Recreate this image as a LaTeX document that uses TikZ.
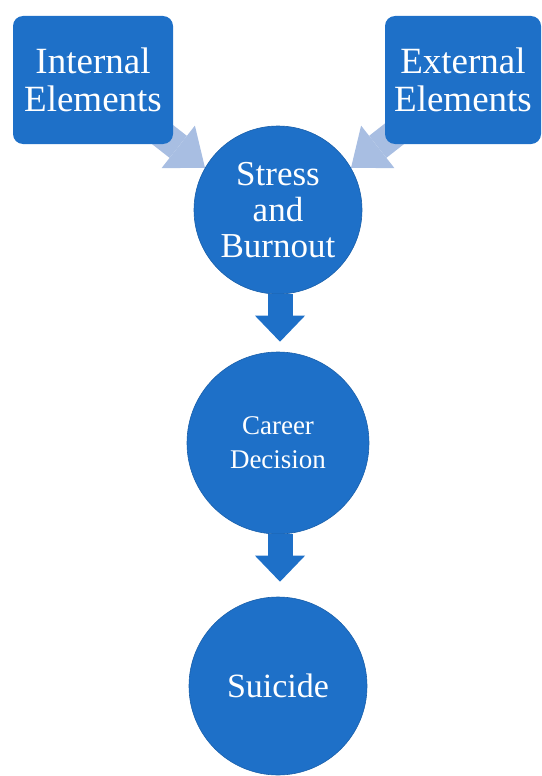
\documentclass[tikz,border=0pt]{standalone}
\usepackage{fontspec}
\setmainfont{Liberation Serif}
\usetikzlibrary{arrows.meta,backgrounds}
\definecolor{boxblue}{RGB}{30,112,200}
\definecolor{paleblue}{RGB}{168,190,226}

\begin{document}
\begin{tikzpicture}[x=1pt, y=-1pt,
    element/.style={rectangle, rounded corners=10pt, fill=boxblue, text=white,
        inner sep=0pt, align=center, minimum height=128pt,
        font=\fontsize{37}{38}\selectfont},
    stage/.style={circle, fill=boxblue, draw=boxblue!85!black, line width=0.6pt,
        text=white, inner sep=0pt, align=center},
    flowarrow/.style={boxblue, line width=25pt,
        -{Triangle[width=50pt, length=26pt, line width=0pt]}},
    feedarrow/.style={paleblue, line width=28pt,
        -{Triangle[width=54pt, length=34pt, line width=0pt]}}]
    \useasboundingbox (0,0) rectangle (541,776);
    \pgfmathsetmacro{\cx}{278}  % units of points, axis of the circles

    % the two sources
    \node[element, minimum width=160pt] (internal) at (93,80) {Internal\\Elements};
    \node[element, minimum width=156pt] (external) at (463,80) {External\\Elements};

    % the chain of stages
    \node[stage, minimum size=168pt, font=\fontsize{35}{36}\selectfont]
        (stress) at (\cx,210) {Stress\\and\\Burnout};
    \node[stage, minimum size=182pt, font=\fontsize{27}{34}\selectfont]
        (career) at (\cx,443) {Career\\Decision};
    \node[stage, minimum size=178pt, font=\fontsize{34}{34}\selectfont]
        (suicide) at (\cx,686) {Suicide};

    % pale arrows run behind the boxes, from their centres
    \begin{scope}[on background layer]
        \draw[feedarrow] (internal.center) -- (stress.150);
        \draw[feedarrow] (external.center) -- (stress.30);
    \end{scope}

    \draw[flowarrow, shorten >=10pt] ([xshift=2pt]stress.south) -- ([xshift=2pt]career.north);
    \draw[flowarrow, shorten >=15pt] ([xshift=2pt]career.south) -- ([xshift=2pt]suicide.north);
\end{tikzpicture}
\end{document}
